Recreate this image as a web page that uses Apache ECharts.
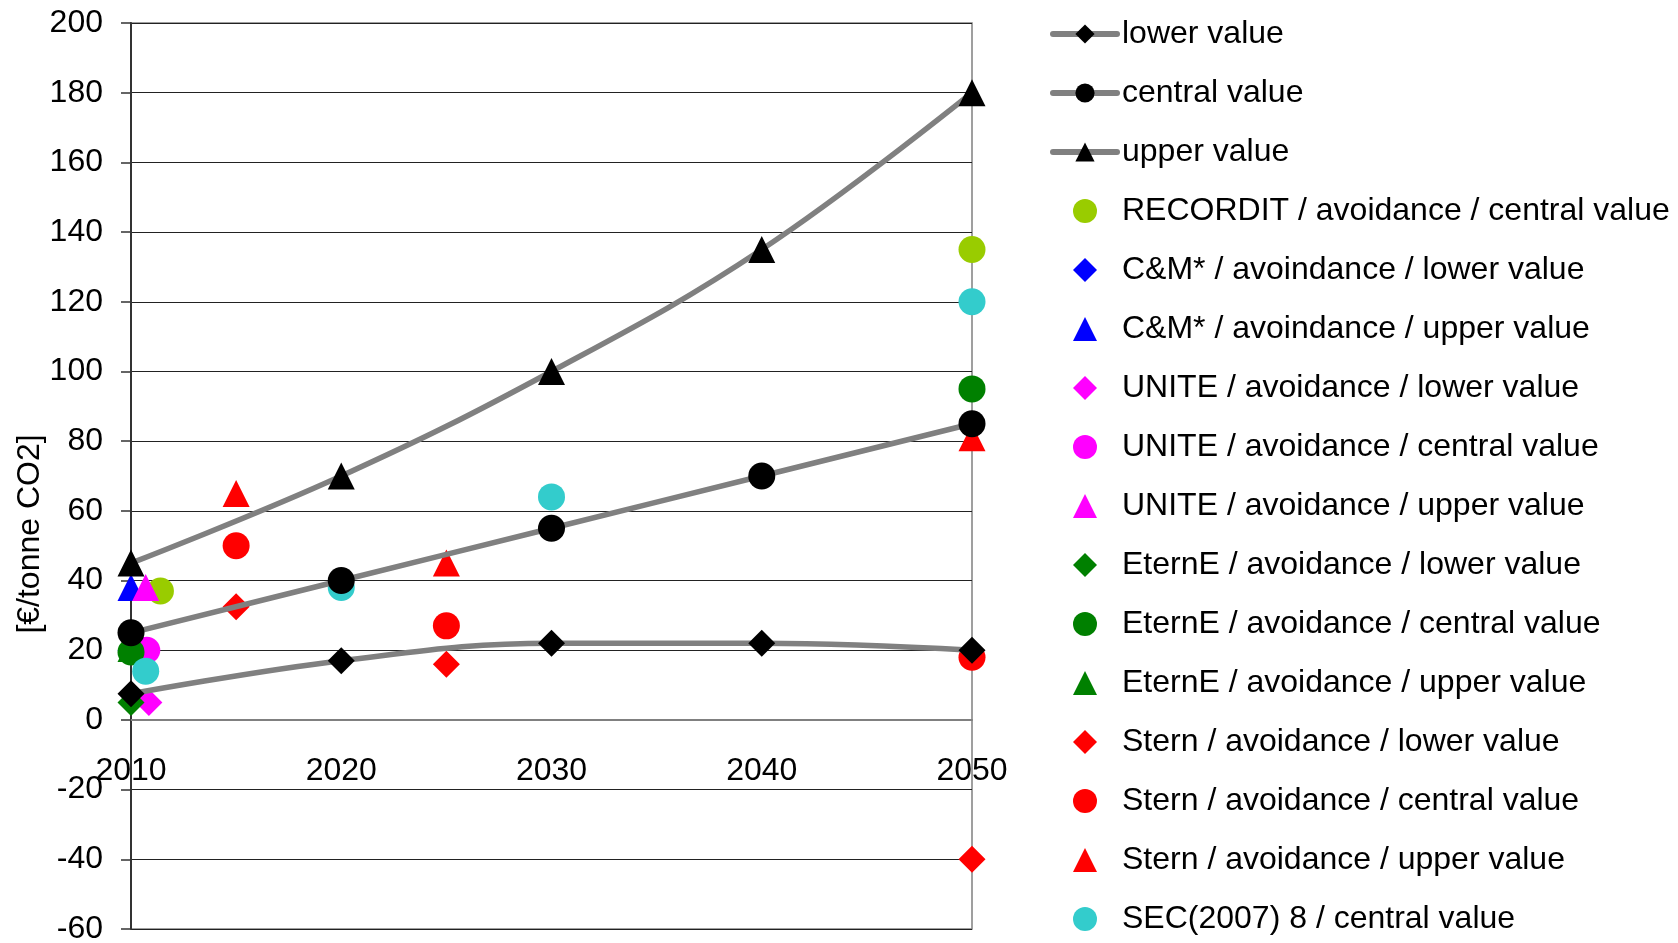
<!DOCTYPE html>
<html lang="en">
<head>
    <meta charset="UTF-8">
    <title>CO2 price</title>
    <script src="https://cdn.jsdelivr.net/npm/echarts@6/dist/echarts.min.js"></script>
    <style>
        html, body { margin: 0; padding: 0; background: #fff; }
        #chart { width: 1678px; height: 943px; }
    </style>
</head>
<body>
<div id="chart"></div>
<script>
    // reference lines
    const years = [2010, 2020, 2030, 2040, 2050];
    const lowerValue = [7.5, 17, 22, 22, 20];
    const centralValue = [25, 40, 55, 70, 85];
    const upperValue = [45, 70, 100, 135, 180];

    // single studies, [year, value]
    const recorditCentral = [[2011.4, 37], [2050, 135]];
    const cmLower = [[2010, 20]];
    const cmUpper = [[2010, 38]];
    const uniteLower = [[2010.85, 5]];
    const uniteCentral = [[2010.75, 20]];
    const uniteUpper = [[2010.7, 38]];
    const eterneLower = [[2010, 5]];
    const eterneCentral = [[2010, 19.5], [2050, 95]];
    const eterneUpper = [[2010, 20.5]];
    const sternLower = [[2015, 32.5], [2025, 16], [2050, -40]];
    const sternCentral = [[2015, 50], [2025, 27], [2050, 18]];
    const sternUpper = [[2015, 65], [2025, 45], [2050, 81]];
    const secCentral = [[2010.7, 14], [2020, 38], [2030, 64], [2050, 120]];

    const yTicks = {min: -60, max: 200, step: 20};
    const xTicks = {min: 2010, max: 2050, step: 10};

    const font = '"Liberation Sans", Arial, sans-serif';
    const triPath = 'path://M1,0L2,2L0,2Z';
    const diaPath = 'path://M1,0L2,1L1,2L0,1Z';

    const gridTop = 23, gridBottom = 14;
    // x axis sits on the zero line, not at the bottom
    const plotH = 943 - gridTop - gridBottom;
    const zeroOffset = -plotH * (0 - yTicks.min) / (yTicks.max - yTicks.min);

    function refLine(name, vals, symbol) {
        return {
            name: name,
            type: 'line',
            data: years.map((y, i) => [y, vals[i]]),
            smooth: 0.4,
            symbol: symbol,
            symbolSize: 27,
            clip: false,
            lineStyle: {color: '#808080', width: 5.5},
            itemStyle: {color: '#000'}
        };
    }

    function dots(name, data, symbol, color) {
        return {
            name: name,
            type: 'scatter',
            data: data,
            symbol: symbol,
            symbolSize: 27,
            clip: false,
            itemStyle: {color: color, opacity: 1}
        };
    }

    const series = [
        refLine('lower value', lowerValue, 'diamond'),
        refLine('central value', centralValue, 'circle'),
        refLine('upper value', upperValue, 'triangle'),
        dots('RECORDIT / avoidance / central value', recorditCentral, 'circle', '#99cc00'),
        dots('C&M* / avoindance / lower value', cmLower, 'diamond', '#0000ff'),
        dots('C&M* / avoindance / upper value', cmUpper, 'triangle', '#0000ff'),
        dots('UNITE / avoidance / lower value', uniteLower, 'diamond', '#ff00ff'),
        dots('UNITE / avoidance / central value', uniteCentral, 'circle', '#ff00ff'),
        dots('UNITE / avoidance / upper value', uniteUpper, 'triangle', '#ff00ff'),
        dots('EternE / avoidance / lower value', eterneLower, 'diamond', '#008000'),
        dots('EternE / avoidance / central value', eterneCentral, 'circle', '#008000'),
        dots('EternE / avoidance / upper value', eterneUpper, 'triangle', '#008000'),
        dots('Stern / avoidance / lower value', sternLower, 'diamond', '#ff0000'),
        dots('Stern / avoidance / central value', sternCentral, 'circle', '#ff0000'),
        dots('Stern / avoidance / upper value', sternUpper, 'triangle', '#ff0000'),
        dots('SEC(2007) 8 / central value', secCentral, 'circle', '#33cccc')
    ];

    // legend icons: keep triangles / diamonds square inside the wide icon box
    const legendData = series.map(s => {
        if (s.type === 'line') return s.name;
        let icon = 'circle';
        if (s.symbol === 'triangle') icon = triPath;
        if (s.symbol === 'diamond') icon = diaPath;
        return {name: s.name, icon: icon};
    });

    let myChart = echarts.init(document.getElementById('chart'));
    let option = {
        backgroundColor: '#fff',
        animation: false,
        textStyle: {fontFamily: font},
        grid: {
            left: 131, right: 706, top: gridTop, bottom: gridBottom,
            outerBoundsMode: 'none',
            containLabel: false,
            show: true, borderColor: '#808080', borderWidth: 1.5,
            backgroundColor: 'transparent'
        },
        legend: {
            orient: 'vertical',
            left: 1050,
            top: 17,
            padding: 0,
            itemWidth: 64,
            itemHeight: 24,
            itemGap: 25,
            selectedMode: false,
            symbolKeepAspect: true,
            lineStyle: {width: 6, cap: 'round'},
            textStyle: {fontFamily: font, fontSize: 32, color: '#000', lineHeight: 34},
            data: legendData
        },
        xAxis: {
            type: 'value',
            min: xTicks.min,
            max: xTicks.max,
            interval: xTicks.step,
            offset: zeroOffset,
            axisLine: {onZero: false, lineStyle: {color: '#808080', width: 2}},
            axisTick: {show: false},
            splitLine: {show: false},
            axisLabel: {
                color: '#000', fontSize: 32, fontFamily: font, margin: 35,
                formatter: v => String(v)
            }
        },
        yAxis: {
            type: 'value',
            min: yTicks.min,
            max: yTicks.max,
            interval: yTicks.step,
            axisLine: {show: true, lineStyle: {color: '#333', width: 2}},
            axisTick: {show: true, length: 10, lineStyle: {color: '#333', width: 1.5}},
            splitLine: {show: true, lineStyle: {color: '#222', width: 1.2}},
            axisLabel: {color: '#000', fontSize: 32, fontFamily: font, margin: 28}
        },
        graphic: [{
            type: 'text',
            x: 30,
            y: 534,
            rotation: Math.PI / 2,
            style: {
                text: '[€/tonne CO2]',
                font: '32px ' + font,
                fill: '#000',
                textAlign: 'center',
                textVerticalAlign: 'middle'
            }
        }],
        series: series
    };

    myChart.setOption(option);
</script>
</body>
</html>
